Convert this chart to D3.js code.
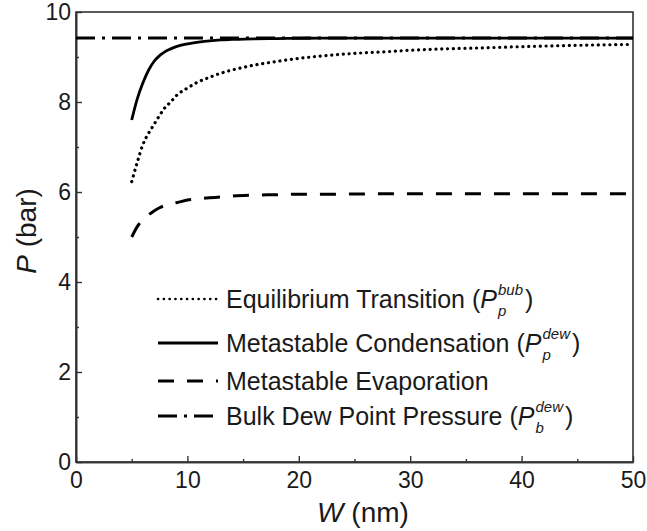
<!doctype html>
<html>
  <head>
    <script src="https://d3js.org/d3.v7.min.js" charset="utf-8"></script>
    <style>
      body { margin: 0; background: #fff; }
      text { font-family: "Liberation Sans", Arial, sans-serif; fill: #1a1a1a; }
    </style>
  </head>
  <body>
    <script>

// pore width W (nm) at which the curves were read
var widths = [5, 5.5, 6, 6.5, 7, 7.5, 8, 8.5, 9, 10, 11, 12, 13, 14, 16, 18, 20, 22, 25, 28, 30, 33, 36, 40, 45, 50];

// pressures (bar)
var equilibrium  = [6.23, 6.66, 7.05, 7.30, 7.50, 7.70, 7.88, 8.00, 8.14, 8.31, 8.45, 8.55, 8.64, 8.71, 8.82, 8.90, 8.97, 9.02, 9.08, 9.12, 9.15, 9.18, 9.20, 9.23, 9.26, 9.28];
var condensation = [7.60, 8.07, 8.42, 8.70, 8.90, 9.03, 9.12, 9.18, 9.23, 9.29, 9.33, 9.36, 9.38, 9.39, 9.405, 9.41, 9.415, 9.42, 9.42, 9.42, 9.42, 9.42, 9.42, 9.42, 9.42, 9.42];
var evaporation  = [5.00, 5.23, 5.39, 5.49, 5.58, 5.65, 5.70, 5.73, 5.76, 5.82, 5.85, 5.87, 5.89, 5.91, 5.93, 5.94, 5.95, 5.95, 5.955, 5.96, 5.96, 5.96, 5.96, 5.96, 5.96, 5.96];
var dewW = [0, 50];
var dewP = [9.42, 9.42];

var xTicks = [0, 10, 20, 30, 40, 50];
var xMinor = [5, 15, 25, 35, 45];
var yTicks = [0, 2, 4, 6, 8, 10];
var yMinor = [1, 3, 5, 7, 9];

var legendNames = ["Equilibrium Transition (", "Metastable Condensation (", "Metastable Evaporation", "Bulk Dew Point Pressure ("];
var legendSub = ["p", "p", null, "b"];
var legendSup = ["bub", "dew", null, "dew"];

var W = 647, H = 531;
var m = { left: 76, right: 14, top: 12, bottom: 69 };

var svg = d3.select("body")
  .append("svg")
    .attr("width", W)
    .attr("height", H);

var x = d3.scaleLinear().domain([0, 50]).range([m.left, W - m.right]);
var y = d3.scaleLinear().domain([0, 10]).range([H - m.bottom, m.top]);

// styles for the four curves
var styles = [
  { dash: "0.1 5.7", cap: "round", width: 3.2 },
  { dash: null, cap: "butt", width: 2.8 },
  { dash: "16 13", cap: "butt", width: 3 },
  { dash: "19 7 3 7", cap: "butt", width: 3 }
];

// frame
svg.append("rect")
  .attr("x", x(0)).attr("y", y(10))
  .attr("width", x(50) - x(0)).attr("height", y(0) - y(10))
  .attr("fill", "none").attr("stroke", "#333").attr("stroke-width", 1.6);

// axes, ticks pointing inward
svg.append("g").attr("transform", "translate(0," + y(0) + ")")
  .call(d3.axisBottom(x).tickValues(xTicks).tickSize(-6).tickSizeOuter(0).tickPadding(10));
svg.append("g").attr("transform", "translate(0," + y(0) + ")")
  .call(d3.axisBottom(x).tickValues(xMinor).tickSize(-3).tickSizeOuter(0).tickFormat(""));
svg.append("g").attr("transform", "translate(" + x(0) + ",0)")
  .call(d3.axisLeft(y).tickValues(yTicks).tickSize(-6).tickSizeOuter(0).tickPadding(5));
svg.append("g").attr("transform", "translate(" + x(0) + ",0)")
  .call(d3.axisLeft(y).tickValues(yMinor).tickSize(-3).tickSizeOuter(0).tickFormat(""));

svg.selectAll(".domain").attr("stroke", "#333").attr("stroke-width", 1.6);
svg.selectAll(".tick line").attr("stroke", "#333").attr("stroke-width", 1.4);
svg.selectAll(".tick text")
  .style("font-family", "'Liberation Sans', Arial, sans-serif")
  .style("font-size", "23px")
  .attr("fill", "#1a1a1a");

// axis titles
var xt = svg.append("text")
  .attr("x", 363).attr("y", 522)
  .attr("text-anchor", "middle")
  .style("font-size", "28px");
xt.append("tspan").style("font-style", "italic").text("W");
xt.append("tspan").text(" (nm)");

var yt = svg.append("text")
  .attr("transform", "translate(36,231) rotate(-90)")
  .attr("text-anchor", "middle")
  .style("font-size", "28px");
yt.append("tspan").style("font-style", "italic").text("P");
yt.append("tspan").text(" (bar)");

// curves
var series = [equilibrium, condensation, evaporation];
var line = d3.line()
  .x(function(d) { return x(d[0]); })
  .y(function(d) { return y(d[1]); })
  .curve(d3.curveMonotoneX);

function draw(ws, ps, s) {
  svg.append("path")
    .datum(ws.map(function(w, i) { return [w, ps[i]]; }))
    .attr("d", line)
    .attr("fill", "none")
    .attr("stroke", "#000")
    .attr("stroke-width", s.width)
    .attr("stroke-linecap", s.cap)
    .attr("stroke-dasharray", s.dash);
}
draw(dewW, dewP, styles[3]);
series.forEach(function(ps, i) { draw(widths, ps, styles[i]); });

// legend
var legBase = [308, 352, 390, 425];
legendNames.forEach(function(name, i) {
  var by = legBase[i];
  svg.append("line")
    .attr("x1", 158).attr("x2", 218)
    .attr("y1", by - 9).attr("y2", by - 9)
    .attr("stroke", "#000")
    .attr("stroke-width", i === 0 ? 2.6 : styles[i].width)
    .attr("stroke-linecap", styles[i].cap)
    .attr("stroke-dasharray", styles[i].dash);

  var t = svg.append("text")
    .attr("x", 226).attr("y", by)
    .style("font-size", "25px");
  t.append("tspan").text(name);
  if (legendSub[i]) {
    t.append("tspan").style("font-style", "italic").text("P");
    var ex = 226 + t.node().getComputedTextLength() + 1;
    var sb = svg.append("text").attr("x", ex).attr("y", by + 8)
      .style("font-size", "15px").style("font-style", "italic").text(legendSub[i]);
    var sp = svg.append("text").attr("x", ex).attr("y", by - 13)
      .style("font-size", "15px").style("font-style", "italic").text(legendSup[i]);
    var ew = Math.max(sb.node().getComputedTextLength(), sp.node().getComputedTextLength());
    svg.append("text").attr("x", ex + ew + 2).attr("y", by)
      .style("font-size", "25px").text(")");
  }
});

    </script>
  </body>
</html>
